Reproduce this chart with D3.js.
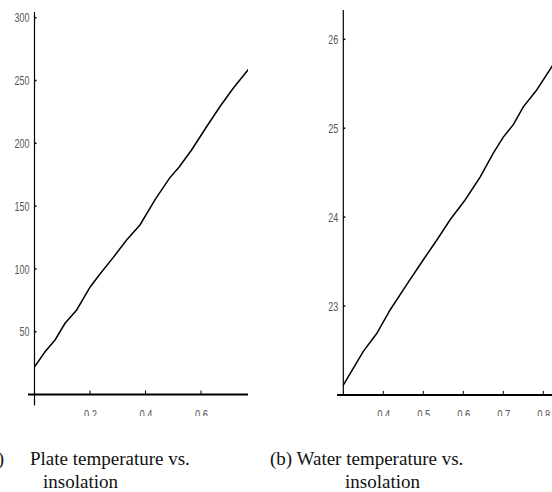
<!DOCTYPE html>
<html>
<head>
<meta charset="utf-8">
<script src="https://cdn.jsdelivr.net/npm/d3@7"></script>
<style>
  body { margin: 0; background: #fff; }
  svg { display: block; }
</style>
</head>
<body>
<script>
'use strict';

// (a) plate temperature vs insolation
const plateX = [0, 0.038, 0.074, 0.11, 0.152, 0.2, 0.236, 0.284, 0.332, 0.38, 0.434,
  0.486, 0.522, 0.566, 0.62, 0.668, 0.716, 0.767, 0.8];
const plateY = [22, 34, 43.4, 56.7, 67.3, 85.4, 95.9, 109.2, 123, 135, 154.9,
  172.1, 181.4, 194.7, 213.2, 229.1, 243.8, 257.8, 267];
const plateXTicks = [0.2, 0.4, 0.6, 0.8];
const plateYTicks = [50, 100, 150, 200, 250, 300];

// (b) water temperature vs insolation
const waterX = [0.3, 0.35, 0.3835, 0.417, 0.4585, 0.5, 0.5335, 0.567, 0.604, 0.642,
  0.675, 0.7, 0.725, 0.75, 0.7835, 0.821, 0.85];
const waterY = [22.11, 22.49, 22.69, 22.955, 23.24, 23.52, 23.74, 23.97, 24.19, 24.45,
  24.72, 24.9, 25.04, 25.24, 25.43, 25.69, 25.9];
const waterXTicks = [0.4, 0.5, 0.6, 0.7, 0.8];
const waterYTicks = [23, 24, 25, 26];

const svg = d3.select('body').append('svg')
  .attr('width', 552)
  .attr('height', 492);

// each panel is cropped: right edge and the bottom of the x labels
svg.append('clipPath').attr('id', 'clipA')
  .append('rect').attr('x', 0).attr('y', 0).attr('width', 248).attr('height', 416);
svg.append('clipPath').attr('id', 'clipB')
  .append('rect').attr('x', 268).attr('y', 0).attr('width', 284).attr('height', 416);

function drawPanel(opt) {
  const g = svg.append('g').attr('clip-path', `url(#${opt.clip})`);

  let xScale = d3.scaleLinear().domain(opt.xDomain).range(opt.xRange);
  let yScale = d3.scaleLinear().domain(opt.yDomain).range(opt.yRange);
  let y0 = yScale(opt.yDomain[0]);
  let x0 = xScale(opt.xDomain[0]);

  // x axis labels
  let xAxis = d3.axisBottom(xScale).tickValues(opt.xTicks)
    .tickSize(0).tickPadding(16).tickFormat(d3.format('.1f'));
  let xg = g.append('g')
    .attr('transform', `translate(0, ${y0})`)
    .call(xAxis);
  xg.select('.domain').remove();
  xg.selectAll('text')
    .attr('fill', '#555')
    .style('font-family', 'Liberation Sans, sans-serif')
    .style('font-size', '12px')
    .attr('textLength', 13)
    .attr('lengthAdjust', 'spacingAndGlyphs');

  // x tick marks, above the axis
  g.selectAll('.xtick').data(opt.xTicks).enter()
    .append('line')
    .attr('x1', d => xScale(d)).attr('x2', d => xScale(d))
    .attr('y1', y0).attr('y2', y0 - 4)
    .attr('stroke', '#000').attr('stroke-width', 1);

  // axis lines
  g.append('line')
    .attr('x1', opt.xLineFrom).attr('x2', 560)
    .attr('y1', y0).attr('y2', y0)
    .attr('stroke', '#000').attr('stroke-width', 2);
  g.append('line')
    .attr('x1', x0).attr('x2', x0)
    .attr('y1', opt.yTop).attr('y2', y0 + opt.yBelow)
    .attr('stroke', '#000').attr('stroke-width', 1.2);

  // y axis labels and ticks
  let yAxis = d3.axisLeft(yScale).tickValues(opt.yTicks)
    .tickSize(0).tickPadding(5).tickFormat(d3.format('d'));
  let yg = g.append('g')
    .attr('transform', `translate(${x0}, 0)`)
    .call(yAxis);
  yg.select('.domain').remove();
  yg.selectAll('text')
    .attr('fill', '#555')
    .style('font-family', 'Liberation Sans, sans-serif')
    .style('font-size', '13px')
    .attr('textLength', d => String(d).length * 5)
    .attr('lengthAdjust', 'spacingAndGlyphs');
  g.selectAll('.ytick').data(opt.yTicks).enter()
    .append('line')
    .attr('x1', x0).attr('x2', x0 + 2)
    .attr('y1', d => yScale(d)).attr('y2', d => yScale(d))
    .attr('stroke', '#000').attr('stroke-width', 1.5);

  // the curve
  let pts = opt.xs.map((x, i) => [x, opt.ys[i]]);
  let line = d3.line()
    .x(d => xScale(d[0]))
    .y(d => yScale(d[1]));
  g.append('path')
    .datum(pts)
    .attr('d', line)
    .attr('fill', 'none')
    .attr('stroke', '#000')
    .attr('stroke-width', 1.5);

  // caption
  let cap = svg.append('text')
    .style('font-family', 'Liberation Serif, Times New Roman, serif')
    .style('font-size', '19px')
    .attr('fill', '#111');
  opt.caption.forEach(c => {
    cap.append('tspan').attr('x', c.x).attr('y', c.y).text(c.t);
  });
}

drawPanel({
  clip: 'clipA',
  xDomain: [0, 0.8], xRange: [34.5, 256.5],
  yDomain: [0, 300], yRange: [394.5, 17.7],
  xTicks: plateXTicks, yTicks: plateYTicks,
  xs: plateX, ys: plateY,
  xLineFrom: 28, yTop: 12, yBelow: 11,
  caption: [
    { x: -17, y: 465, t: '(a)' },
    { x: 30, y: 465, t: 'Plate temperature vs.' },
    { x: 43, y: 488, t: 'insolation' }
  ]
});

drawPanel({
  clip: 'clipB',
  xDomain: [0.3, 0.9], xRange: [343.3, 583.3],
  yDomain: [22, 26], yRange: [394.9, 39.3],
  xTicks: waterXTicks, yTicks: waterYTicks,
  xs: waterX, ys: waterY,
  xLineFrom: 337, yTop: 10, yBelow: 0,
  caption: [
    { x: 270, y: 465, t: '(b) Water temperature vs.' },
    { x: 345, y: 488, t: 'insolation' }
  ]
});
</script>
</body>
</html>
